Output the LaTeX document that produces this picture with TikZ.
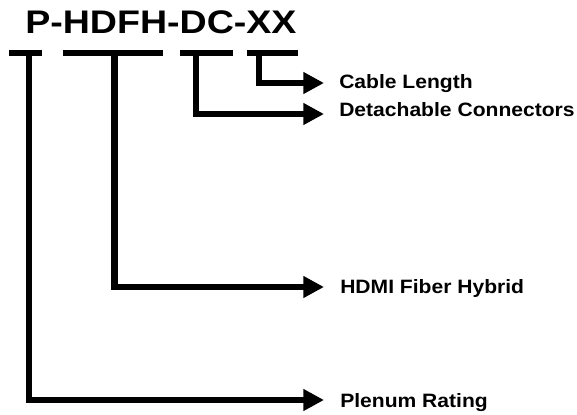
\documentclass[tikz,border=0pt]{standalone}
\usepackage{fontspec}
\setmainfont{Liberation Sans}
\usetikzlibrary{arrows.meta}
\tikzset{
  bar/.style={line width=5pt, line cap=butt},
  conn/.style={line width=5pt, line join=miter, -{Triangle[length=15.5pt,width=15.5pt]}},
  lbl/.style={anchor=base west, inner sep=0pt, font=\fontsize{14.5pt}{17pt}\selectfont\bfseries},
  ttl/.style={anchor=base west, inner sep=0pt, font=\fontsize{24.5pt}{28pt}\selectfont\bfseries}
}
\begin{document}
\begin{tikzpicture}[x=0.75pt, y=-0.75pt]
\useasboundingbox (0,0) rectangle (577,414);
% title
\node[ttl] (title) at (25,33) {\scalebox{1.15}[1]{P-HDFH-DC-XX}};
% bars under the code parts
\coordinate (b1l) at (9,53);   \coordinate (b1r) at (42,53);
\coordinate (b2l) at (63,53);  \coordinate (b2r) at (163,53);
\coordinate (b3l) at (180,53); \coordinate (b3r) at (233,53);
\coordinate (b4l) at (247,53); \coordinate (b4r) at (298,53);
\draw[bar] (b1l) -- (b1r);
\draw[bar] (b2l) -- (b2r);
\draw[bar] (b3l) -- (b3r);
\draw[bar] (b4l) -- (b4r);
% stems
\coordinate (s1) at (29,53);
\coordinate (s2) at (114.5,53);
\coordinate (s3) at (196,53);
\coordinate (s4) at (259,53);
% arrow tips
\coordinate (t1) at (324,83);
\coordinate (t2) at (324,114);
\coordinate (t3) at (324,287);
\coordinate (t4) at (324,400);
% labels
\node[lbl] (cable) at (339,88) {\scalebox{1.09}[1]{Cable Length}};
\node[lbl] (detach) at (339,116.5) {\scalebox{1.09}[1]{Detachable Connectors}};
\node[lbl] (hdmi) at (340,293) {\scalebox{1.09}[1]{HDMI Fiber Hybrid}};
\node[lbl] (plenum) at (340,407) {\scalebox{1.09}[1]{Plenum Rating}};
% connectors
\draw[conn] (s4) |- (t1);
\draw[conn] (s3) |- (t2);
\draw[conn] (s2) |- (t3);
\draw[conn] (s1) |- (t4);
\end{tikzpicture}
\end{document}
